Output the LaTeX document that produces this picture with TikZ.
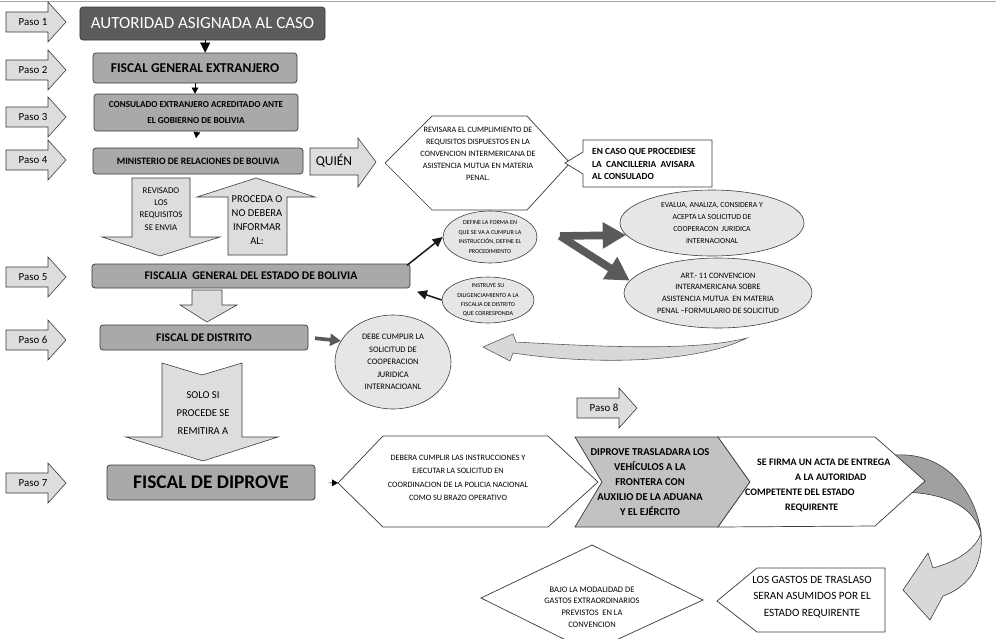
\documentclass[tikz,border=0pt]{standalone}
\usepackage{fontspec}
\setmainfont{Carlito}
\usetikzlibrary{shapes.geometric,arrows.meta}
\definecolor{dkbox}{HTML}{5C5C5C}
\definecolor{boxg}{HTML}{A9A9A9}
\definecolor{arrg}{HTML}{DDDDDD}
\definecolor{ellg}{HTML}{E6E6E6}
\definecolor{chevg}{HTML}{C2C2C2}
\definecolor{lineg}{HTML}{3A3A3A}
\definecolor{thickg}{HTML}{5A5A5A}
\definecolor{curvdk}{HTML}{A0A0A0}
\definecolor{curvlt}{HTML}{D8D8D8}
\newcommand\fsz[2]{\fontsize{#1}{#2}\selectfont}
\tikzset{
 mainbox/.style={draw=lineg, fill=boxg, rounded corners=2.5pt, inner sep=0pt, align=center, line width=0.6pt},
 ell/.style={ellipse, draw=lineg, fill=ellg, inner sep=0pt, align=center, line width=0.5pt},
 blockarrow/.style={draw=lineg, fill=arrg, line width=0.5pt},
 outline/.style={draw=lineg, fill=white, line width=0.6pt},
 lbl/.style={inner sep=0pt, align=center},
 pasolbl/.style={inner sep=0pt, font={\fsz{9.3}{11}}},
 tri/.style={-{Triangle[length=3mm,width=3mm]}, line width=0.3pt, black},
 trismall/.style={-{Triangle[length=1.8mm,width=2mm]}, line width=0.3pt, black},
 blk/.style={-{Triangle[length=3mm,width=2.8mm]}, line width=1.3pt, black!90},
 gthick/.style={-{Triangle[length=7mm,width=7.5mm]}, line width=2.3mm, thickg},
 gmed/.style={-{Triangle[length=3.2mm,width=3.6mm]}, line width=1.1mm, thickg},
}
\newcommand\pasoarrow[4]{%
 \begin{scope}[shift={(#2,#3)}]
 \draw[blockarrow] (6,-10) -- (48,-10) -- (48,-20) -- (66,0) -- (48,20) -- (48,10) -- (6,10) -- cycle;
 \node[pasolbl] (#1) at (33,0) {#4};
 \end{scope}}
\begin{document}
\begin{tikzpicture}[x=0.3mm,y=-0.3mm]
\useasboundingbox (0,0) rectangle (996,638);
\fill[white] (0,0) rectangle (996,638);
\draw[black!35, line width=0.8pt] (0,1.2) -- (996,1.2);

% Paso arrows
\pasoarrow{p1}{0}{22}{Paso 1}
\pasoarrow{p2}{0}{70}{Paso 2}
\pasoarrow{p3}{0}{117}{Paso 3}
\pasoarrow{p4}{0}{160}{Paso 4}
\pasoarrow{p5}{0}{277}{Paso 5}
\pasoarrow{p6}{0}{340}{Paso 6}
\pasoarrow{p7}{0}{483}{Paso 7}
\pasoarrow{p8}{571}{408}{Paso 8}

% main column
\node[mainbox, fill=dkbox, text=white, minimum width=73.5mm, minimum height=9.9mm, font={\fsz{14.5}{17}}] (b1) at (202.5,23.5) {AUTORIDAD ASIGNADA AL CASO};
\node[mainbox, minimum width=61.2mm, minimum height=9mm, font={\bfseries\fsz{11.5}{13}}] (b2) at (195,68) {FISCAL GENERAL EXTRANJERO};
\node[mainbox, minimum width=61.2mm, minimum height=11.1mm, font={\bfseries\fsz{7.8}{13}}] (b3) at (196,112.5) {CONSULADO EXTRANJERO ACREDITADO ANTE\\EL GOBIERNO DE BOLIVIA};
\node[mainbox, minimum width=63mm, minimum height=7.8mm, font={\bfseries\fsz{8.3}{10}}] (b4) at (198,161) {MINISTERIO DE RELACIONES DE BOLIVIA};
\node[mainbox, minimum width=95.4mm, minimum height=7.2mm, font={\bfseries\fsz{10}{12}}] (b5) at (251,276) {FISCALIA\ \ GENERAL DEL ESTADO DE BOLIVIA};
\node[mainbox, minimum width=62.4mm, minimum height=7.5mm, font={\bfseries\fsz{10}{12}}] (b6) at (204,337.5) {FISCAL DE DISTRITO};
\node[mainbox, minimum width=62.4mm, minimum height=10.5mm, font={\bfseries\fsz{16.5}{19}}] (b7) at (211,482.5) {FISCAL DE DIPROVE};

\draw[tri] ([xshift=0.8mm]b1.south) -- ([xshift=0.8mm]b1.south |- b2.north);
\draw[trismall] (b2.south) -- (b2.south |- b3.north);
\draw[trismall] ([xshift=0.3mm]b3.south) -- ([yshift=-2mm]b3.south);

% QUIEN arrow
\draw[blockarrow] (310,148) -- (358,148) -- (358,138) -- (376,162) -- (358,187) -- (358,175) -- (310,175) -- cycle;
\node[lbl, font={\fsz{11.5}{13}}] (quien) at (334,161) {QUIÉN};

% hexagon 1
\draw[outline] (385,163) -- (432,116) -- (527,116) -- (570,163) -- (527,210) -- (432,210) -- cycle;
\node[lbl, font={\fsz{7}{10.3}}] (h1) at (478,154) {REVISARA EL CUMPLIMIENTO DE\\REQUISITOS DISPUESTOS EN LA\\CONVENCION INTERMERICANA DE\\ASISTENCIA MUTUA EN MATERIA\\PENAL.};

% callout
\draw[outline] (583,140) -- (712,140) -- (712,187) -- (583,187) -- (583,174) -- (565,163) -- (583,152) -- cycle;
\node[lbl, align=left, anchor=west, font={\bfseries\fsz{8}{11}}] (cal) at (592,164) {EN CASO QUE PROCEDIESE\\LA\ \ CANCILLERIA\ \ AVISARA\\AL CONSULADO};

% revisado down arrow
\draw[blockarrow] (132,178) -- (190,178) -- (190,237) -- (220,237) -- (160,256) -- (102,237) -- (132,237) -- cycle;
\node[lbl, font={\fsz{7.5}{10.5}}] (rev) at (161,209) {REVISADO\\LOS\\REQUISITOS\\SE ENVIA};
% proceda up arrow
\draw[blockarrow] (228,255) -- (287,255) -- (287,197) -- (315,197) -- (256,178) -- (197,197) -- (228,197) -- cycle;
\node[lbl, font={\fsz{9}{11.8}}] (proc) at (257,220) {PROCEDA O\\NO DEBERA\\INFORMAR\\AL:};

% down arrow below b5
\draw[blockarrow] (192,290) -- (222,290) -- (222,305) -- (237,305) -- (207,322) -- (180,305) -- (192,305) -- cycle;

% small ellipses
\node[ell, minimum width=28.2mm, minimum height=15.6mm, font={\fsz{5.2}{8.3}}] (def) at (490,237) {DEFINE LA FORMA EN\\QUE SE VA A CUMPLIR LA\\INSTRUCCIÓN, DEFINE EL\\PROCEDIMIENTO};
\node[ell, minimum width=27.6mm, minimum height=13.8mm, font={\fsz{5.2}{7.8}}] (ins) at (488,300) {INSTRUYE SU\\DILIGENCIAMIENTO A LA\\FISCALIA DE DISTRITO\\QUE CORRESPONDA};
\draw[blk] ([xshift=-1mm,yshift=-0.5mm]b5.north east) -- (def.west);
\draw[blk] (ins.west) -- ([xshift=2mm,yshift=-1mm]b5.south east);

% right ellipses
\node[ell, minimum width=55.2mm, minimum height=19.8mm, font={\fsz{6.6}{10}}] (eva) at (712,223) {EVALUA, ANALIZA, CONSIDERA Y\\ACEPTA LA SOLICITUD DE\\COOPERACON\ \ JURIDICA\\INTERNACIONAL};
\node[ell, minimum width=56.4mm, minimum height=21mm, font={\fsz{7}{10}}] (art) at (718,293) {ART.- 11 CONVENCION\\INTERAMERICANA SOBRE\\ASISTENCIA MUTUA\ \ EN MATERIA\\PENAL --FORMULARIO DE SOLICITUD};
\coordinate (fork) at (560,236);
\draw[gthick] (fork) -- (eva.188);
\draw[gthick] (fork) -- (art.172);

% debe ellipse
\node[ell, minimum width=34.8mm, minimum height=28.2mm, font={\fsz{7.2}{10.7}}] (debe) at (393,362) {DEBE CUMPLIR LA\\SOLICITUD DE\\COOPERACION\\JURIDICA\\INTERNACIOANL};
\draw[gmed, shorten <=2mm] (b6.east) -- (debe.158);

% curved return arrow
\draw[draw=thickg, fill=curvlt, line width=0.5pt] (747,338) .. controls (700,350) and (620,348) .. (516,342) -- (513,334) -- (483,347) -- (510,361) -- (513,353) .. controls (600,366) and (700,362) .. (747,338) -- cycle;

% solo si arrow
\draw[blockarrow] (162,363) -- (202,375) -- (242,363) -- (242,437) -- (278,437) -- (203,461) -- (126,437) -- (162,437) -- cycle;
\node[lbl, font={\fsz{9}{15.5}}] (solo) at (203,413) {SOLO SI\\PROCEDE SE\\REMITIRA A};

% bottom row
\coordinate (debL) at (338,483);
\draw[trismall, shorten <=4mm] (b7.east) -- (debL);
\draw[outline] (338,483) -- (383,436) -- (548,436) -- (598,482) -- (548,527) -- (383,527) -- cycle;
\node[lbl, font={\fsz{7}{11.5}}] (deb) at (458,478) {DEBERA CUMPLIR LAS INSTRUCCIONES Y\\EJECUTAR LA SOLICITUD EN\\COORDINACION DE LA POLICIA NACIONAL\\COMO SU BRAZO OPERATIVO};
\draw[draw=lineg, fill=chevg, line width=0.6pt] (575,437) -- (718,437) -- (750,482) -- (718,527) -- (575,527) -- (602,482) -- cycle;
\node[lbl, font={\bfseries\fsz{9}{12.8}}] (dip) at (650,482) {DIPROVE TRASLADARA LOS\\VEHÍCULOS A LA\\FRONTERA CON\\AUXILIO DE LA ADUANA\\Y EL EJÉRCITO};

% bottom right curved arrow
\draw[draw=lineg, fill=curvdk, line width=0.5pt] (895,455) .. controls (945,452) and (975,490) .. (981,533) .. controls (975,512) and (955,494) .. (905,492) -- cycle;
\draw[draw=lineg, fill=curvlt, line width=0.5pt] (981,533) .. controls (984,568) and (966,588) .. (943,596) -- (930,620) -- (903,590) -- (928,553) -- (933,568) .. controls (955,562) and (976,550) .. (981,533) -- cycle;

\draw[outline] (718,437) -- (875,437) -- (925,481) -- (875,526) -- (718,527) -- (750,482) -- cycle;
\node[lbl, align=left, anchor=west, font={\bfseries\fsz{8.5}{12.8}}] (sef) at (745,485) {\hspace*{3.6mm}SE FIRMA UN ACTA DE ENTREGA\\\hspace*{15mm}A LA AUTORIDAD\\COMPETENTE DEL ESTADO\\\hspace*{12mm}REQUIRENTE};

% gastos callout
\draw[outline] (757,568) -- (885,568) -- (885,632) -- (757,632) -- (717,601) -- cycle;
\node[lbl, font={\fsz{9.5}{14}}] (gas) at (812,597) {LOS GASTOS DE TRASLASO\\SERAN ASUMIDOS POR EL\\ESTADO REQUIRENTE};

% bajo diamond
\draw[outline] (481,598) -- (592,545) -- (703,600) -- (590,652) -- cycle;
\node[lbl, font={\fsz{7.2}{10}}] (bajo) at (592,607) {BAJO LA MODALIDAD DE\\GASTOS EXTRAORDINARIOS\\PREVISTOS\ \ EN LA\\CONVENCION};
\end{tikzpicture}
\end{document}
